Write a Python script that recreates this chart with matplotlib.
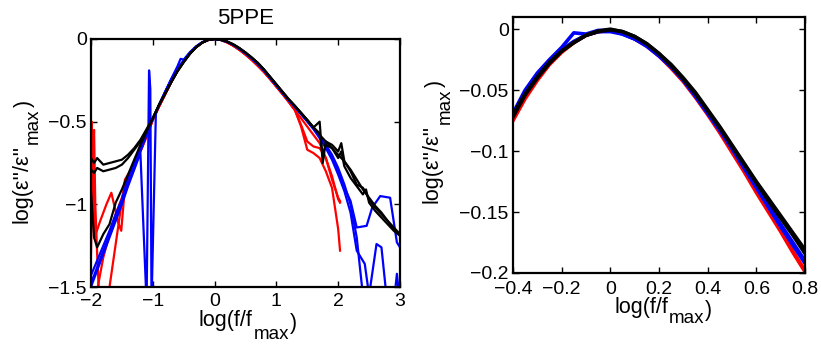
import matplotlib
matplotlib.use("Agg")
import matplotlib.pyplot as plt
from matplotlib.font_manager import FontProperties
from matplotlib.transforms import IdentityTransform

plt.rcParams['font.family'] = ['Liberation Sans', 'DejaVu Sans']

# ---- left panel data: log(f/fmax) vs log(eps''/eps''max) ----
center_x = [-1.0, -0.9, -0.8, -0.7, -0.6, -0.5, -0.4, -0.3, -0.2, -0.1, 0.0,
            0.1, 0.2, 0.3, 0.4, 0.5, 0.6, 0.7, 0.8, 0.9, 1.0, 1.1, 1.2, 1.3]
black_center = [-0.48, -0.40, -0.33, -0.26, -0.195, -0.14, -0.09, -0.05, -0.022, -0.005, 0.0,
                -0.004, -0.015, -0.032, -0.055, -0.082, -0.112, -0.145, -0.185, -0.23, -0.275,
                -0.32, -0.365, -0.405]
blue_center = [-0.48, -0.40, -0.32, -0.245, -0.18, -0.13, -0.085, -0.047, -0.02, -0.005, 0.0,
               -0.005, -0.017, -0.035, -0.058, -0.086, -0.117, -0.151, -0.19, -0.235, -0.28,
               -0.325, -0.37, -0.41]
red_center = [-0.49, -0.41, -0.335, -0.26, -0.19, -0.135, -0.088, -0.05, -0.022, -0.006, 0.0,
              -0.006, -0.02, -0.04, -0.065, -0.094, -0.126, -0.162, -0.20, -0.243, -0.288,
              -0.333, -0.38, -0.43]

# low-frequency tails
tail_lx = [-2.0, -1.95, -1.9, -1.8, -1.7, -1.6, -1.5, -1.4, -1.3, -1.2, -1.1]
black1_low = [-0.72, -0.75, -0.72, -0.76, -0.75, -0.74, -0.73, -0.70, -0.66, -0.61, -0.545]
black2_low = [-0.79, -0.81, -0.78, -0.80, -0.79, -0.78, -0.76, -0.72, -0.67, -0.62, -0.55]
black3_low = [-0.92, -1.20, -1.26, -1.18, -1.12, -0.99, -0.91, -0.82, -0.73, -0.64, -0.56]
blue1_low = [-1.43, -1.385, -1.34, -1.25, -1.16, -1.06, -0.97, -0.84, -0.75, -0.66, -0.57]
blue2_low = [-1.47, -1.43, -1.38, -1.28, -1.19, -1.09, -0.99, -0.88, -0.78, -0.68, -0.58]

# high-frequency tails
tail_hx = [1.4, 1.5, 1.6, 1.7, 1.75, 1.8, 1.9, 2.0, 2.05, 2.1, 2.2, 2.3, 2.4, 2.45, 2.5,
           2.6, 2.7, 2.8, 2.9, 3.0]
black1_high = [-0.445, -0.49, -0.535, -0.50, -0.75, -0.62, -0.64, -0.68, -0.63, -0.74, -0.80,
               -0.88, -0.90, -0.93, -0.97, -1.02, -1.06, -1.10, -1.15, -1.18]
black2_high = [-0.445, -0.49, -0.535, -0.57, -0.70, -0.64, -0.66, -0.72, -0.68, -0.77, -0.84,
               -0.89, -0.94, -0.91, -0.99, -1.04, -1.08, -1.12, -1.16, -1.19]
black3_high = [-0.445, -0.49, -0.535, -0.58, -0.60, -0.62, -0.66, -0.70, -0.72, -0.74, -0.79,
               -0.85, -0.91, -0.935, -0.96, -1.01, -1.05, -1.10, -1.14, -1.18]

blue1_hx = [1.4, 1.5, 1.6, 1.7, 1.8, 1.9, 2.0, 2.1, 2.2, 2.3, 2.4]
blue1_high = [-0.45, -0.495, -0.54, -0.59, -0.64, -0.70, -0.78, -0.88, -1.00, -1.20, -1.55]
blue2_hx = [1.4, 1.5, 1.6, 1.7, 1.8, 1.9, 2.0, 2.1, 2.2, 2.3, 2.46, 2.55, 2.68, 2.84, 2.95, 3.0]
blue2_high = [-0.45, -0.495, -0.54, -0.59, -0.65, -0.72, -0.80, -0.90, -0.98, -1.14, -1.13,
              -1.02, -0.95, -0.96, -1.23, -1.26]
blue3_hx = [1.4, 1.5, 1.6, 1.7, 1.8, 1.9, 2.0, 2.1, 2.2, 2.3, 2.43, 2.5, 2.62, 2.7, 2.78, 2.9,
            2.95, 3.0]
blue3_high = [-0.45, -0.5, -0.545, -0.6, -0.66, -0.73, -0.82, -0.92, -1.05, -1.28, -1.36,
              -1.55, -1.24, -1.26, -1.55, -1.6, -1.42, -1.6]

# blue curve with the spike near log(f/fmax) = -1
blue_spike_x = [-2.0, -1.9, -1.8, -1.7, -1.6, -1.5, -1.4, -1.3, -1.2, -1.1, -1.06, -1.04,
                -1.02, -0.95, -0.9, -0.8, -0.7, -0.6, -0.55, -0.5, -0.4, -0.3, -0.2, -0.1, 0.0]
blue_spike_y = [-1.50, -1.40, -1.30, -1.20, -1.10, -1.00, -0.89, -0.79, -0.69, -1.60, -0.19,
                -0.30, -1.60, -0.45, -0.40, -0.32, -0.24, -0.165, -0.12, -0.125, -0.08, -0.045,
                -0.02, -0.005, 0.0]

red1_lx = [-2.0, -1.99, -1.97, -1.95, -1.93, -1.9, -1.87, -1.8, -1.7, -1.6, -1.5, -1.45, -1.4,
           -1.3, -1.2, -1.1]
red1_low = [-0.80, -0.50, -0.75, -0.55, -1.00, -1.30, -1.55, -1.70, -1.50, -1.24, -0.98, -0.85,
            -0.82, -0.77, -0.67, -0.58]
red2_lx = [-2.0, -1.97, -1.94, -1.85, -1.75, -1.67, -1.56, -1.51, -1.45, -1.4, -1.3, -1.2, -1.1]
red2_low = [-1.30, -0.70, -1.20, -1.10, -1.00, -0.93, -1.11, -1.16, -0.89, -0.85, -0.77, -0.68,
            -0.59]
red3_lx = [-2.0, -1.89, -1.8, -1.7, -1.6, -1.5, -1.4, -1.3, -1.2, -1.1]
red3_low = [-1.60, -1.50, -1.32, -1.18, -1.06, -0.96, -0.86, -0.77, -0.68, -0.59]

red_hx = [1.4, 1.5, 1.6, 1.7, 1.8, 1.9, 2.0, 2.03]
red1_high = [-0.52, -0.62, -0.65, -0.66, -0.72, -0.83, -0.97, -0.99]
red2_high = [-0.53, -0.67, -0.69, -0.72, -0.80, -0.90, -1.15, -1.28]
red3_high = [-0.48, -0.53, -0.58, -0.63, -0.72, -0.85, -0.96, -0.98]

# ---- right panel data (zoom around the peak) ----
zoom_x = [-0.4, -0.35, -0.3, -0.25, -0.2, -0.15, -0.1, -0.05, 0.0, 0.05, 0.1, 0.15, 0.2,
          0.25, 0.3, 0.35, 0.4, 0.45, 0.5, 0.55, 0.6, 0.65, 0.7, 0.75, 0.8]
zoom_black = [-0.070, -0.053, -0.039, -0.027, -0.018, -0.011, -0.005, -0.0015, 0.0, -0.002,
              -0.006, -0.012, -0.020, -0.029, -0.040, -0.052, -0.066, -0.080, -0.095, -0.110,
              -0.125, -0.139, -0.153, -0.167, -0.181]
zoom_black2 = [-0.072, -0.054, -0.040, -0.028, -0.018, -0.011, -0.005, -0.002, -0.0005, -0.002,
               -0.006, -0.012, -0.020, -0.030, -0.041, -0.053, -0.067, -0.081, -0.096, -0.111,
               -0.126, -0.141, -0.155, -0.169, -0.184]
zoom_blue = [-0.069, -0.050, -0.036, -0.025, -0.015, -0.003, -0.004, -0.001, -0.001, -0.004,
             -0.008, -0.013, -0.021, -0.030, -0.041, -0.054, -0.068, -0.082, -0.097, -0.113,
             -0.129, -0.145, -0.160, -0.175, -0.190]
zoom_blue2 = [-0.071, -0.052, -0.038, -0.026, -0.017, -0.010, -0.005, -0.002, -0.002, -0.004,
              -0.008, -0.014, -0.022, -0.031, -0.042, -0.055, -0.069, -0.083, -0.098, -0.114,
              -0.130, -0.146, -0.162, -0.177, -0.192]
zoom_red = [-0.075, -0.057, -0.042, -0.029, -0.019, -0.011, -0.005, -0.002, -0.001, -0.003,
            -0.008, -0.014, -0.022, -0.032, -0.043, -0.056, -0.070, -0.085, -0.101, -0.117,
            -0.134, -0.150, -0.166, -0.183, -0.199]
zoom_red2 = [-0.074, -0.056, -0.041, -0.028, -0.018, -0.011, -0.005, -0.002, -0.001, -0.003,
             -0.007, -0.013, -0.021, -0.031, -0.042, -0.055, -0.069, -0.084, -0.100, -0.116,
             -0.132, -0.148, -0.165, -0.182, -0.198]

RED, BLUE, BLACK = '#ff0000', '#0000ff', '#000000'
FS_TICK = 14
FS_LABEL = 15.5
FS_SUB = 13.5
W, H = 821, 346


def sub_label(fig, x, y_top, main, sub, tail, drop, rotation=0):
    """Write main + lowered subscript + tail like MATLAB's TeX labels.
    x, y_top are pixel coords (y from the top) of the main text's baseline start."""
    r = fig.canvas.get_renderer()
    fp_main = FontProperties(family='Liberation Sans', size=FS_LABEL)
    fp_sub = FontProperties(family='Liberation Sans', size=FS_SUB)
    w1 = r.get_text_width_height_descent(main, fp_main, ismath=False)[0]
    w2 = r.get_text_width_height_descent(sub, fp_sub, ismath=False)[0]
    y = H - y_top
    kw = dict(transform=IdentityTransform(), ha='left', va='baseline',
              rotation=rotation, rotation_mode='anchor')
    if rotation == 0:
        pos = [(x, y), (x + w1 + 1, y - drop), (x + w1 + w2 + 2, y - 3)]
    else:
        pos = [(x, y), (x + drop, y + w1 + 1), (x + 3, y + w1 + w2 + 2)]
    fig.text(pos[0][0], pos[0][1], main, fontsize=FS_LABEL, **kw)
    fig.text(pos[1][0], pos[1][1], sub, fontsize=FS_SUB, **kw)
    fig.text(pos[2][0], pos[2][1], tail, fontsize=FS_LABEL, **kw)


fig = plt.figure(figsize=(W / 100, H / 100), dpi=100)
ax1 = fig.add_axes([0.1108, 0.1705, 0.3764, 0.7168])
ax2 = fig.add_axes([0.6248, 0.2110, 0.3557, 0.7399])

lw = 1.6
# red curves
for lx, low, high in [(red1_lx, red1_low, red1_high),
                      (red2_lx, red2_low, red2_high),
                      (red3_lx, red3_low, red3_high)]:
    ax1.plot(lx + center_x + red_hx, low + red_center + high, color=RED, lw=lw)
# blue curves
ax1.plot(tail_lx + center_x + blue1_hx[1:], blue1_low + blue_center + blue1_high[1:],
         color=BLUE, lw=lw)
ax1.plot(tail_lx + center_x + blue2_hx[1:], blue2_low + blue_center + blue2_high[1:],
         color=BLUE, lw=lw)
ax1.plot(blue_spike_x + center_x[11:] + blue3_hx[1:],
         blue_spike_y + blue_center[11:] + blue3_high[1:], color=BLUE, lw=lw)
# black curves
for low, high in [(black1_low, black1_high), (black2_low, black2_high),
                  (black3_low, black3_high)]:
    ax1.plot(tail_lx + center_x + tail_hx[1:], low + black_center + high[1:],
             color=BLACK, lw=lw)

ax1.set_xlim(-2, 3)
ax1.set_ylim(-1.5, 0)
ax1.set_xticks([-2, -1, 0, 1, 2, 3])
ax1.set_yticks([-1.5, -1, -0.5, 0])
ax1.set_yticklabels(['\u22121.5', '\u22121', '\u22120.5', '0'])
ax1.set_xticklabels(['\u22122', '\u22121', '0', '1', '2', '3'])
ax1.set_title('5PPE', fontsize=16, pad=11)

lw2 = 2.6
for y in (zoom_red, zoom_red2):
    ax2.plot(zoom_x, y, color=RED, lw=lw2)
for y in (zoom_blue, zoom_blue2):
    ax2.plot(zoom_x, y, color=BLUE, lw=lw2)
for y in (zoom_black, zoom_black2):
    ax2.plot(zoom_x, y, color=BLACK, lw=lw2)

ax2.set_xlim(-0.4, 0.8)
ax2.set_ylim(-0.2, 0.01)
ax2.set_xticks([-0.4, -0.2, 0, 0.2, 0.4, 0.6, 0.8])
ax2.set_xticklabels(['\u22120.4', '\u22120.2', '0', '0.2', '0.4', '0.6', '0.8'])
ax2.set_yticks([-0.2, -0.15, -0.1, -0.05, 0])
ax2.set_yticklabels(['\u22120.2', '\u22120.15', '\u22120.1', '\u22120.05', '0'])

for ax in (ax1, ax2):
    for s in ax.spines.values():
        s.set_linewidth(1.6)
    ax.tick_params(direction='in', length=4, width=1, top=True, right=True,
                   labelsize=FS_TICK)
    ax.tick_params(axis='y', pad=3)
ax1.tick_params(axis='x', pad=4)
ax2.tick_params(axis='x', pad=5.5)

# axis labels with MATLAB-style subscripts
sub_label(fig, 199, 326, "log(f/f", "max", ")", drop=13)
sub_label(fig, 614, 313, "log(f/f", "max", ")", drop=10)
sub_label(fig, 27, 223, "log(\u03b5''/\u03b5''", "max", ")", drop=11, rotation=90)
sub_label(fig, 438, 203, "log(\u03b5''/\u03b5''", "max", ")", drop=12, rotation=90)

fig.savefig('out.png', dpi=100)
